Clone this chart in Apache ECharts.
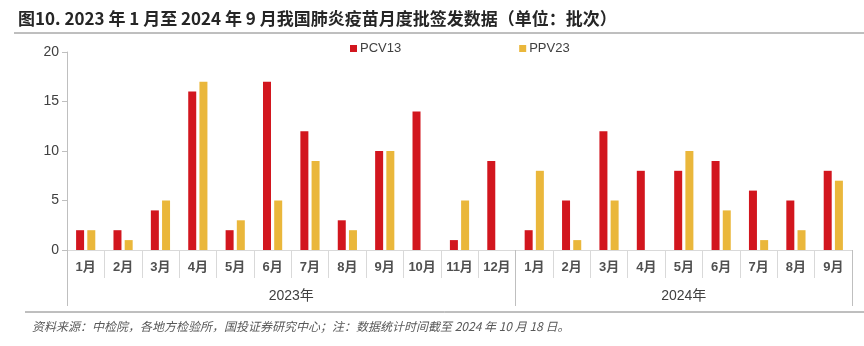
<!DOCTYPE html>
<html><head><meta charset="utf-8">
<script src="https://cdn.jsdelivr.net/npm/echarts@6/dist/echarts.min.js"></script>
<style>html,body{margin:0;padding:0;background:#fff}#c{width:864px;height:346px}</style>
</head><body><div id="c"></div>
<script>
const months = ['1月','2月','3月','4月','5月','6月','7月','8月','9月','10月','11月','12月','1月','2月','3月','4月','5月','6月','7月','8月','9月'];
const years = ['2023年','2024年'];
const yearCounts = [12, 9];
const pcv13 = [2,2,4,16,2,17,12,3,10,14,1,9, 2,5,12,8,8,9,6,5,8];
const ppv23 = [2,1,5,17,3,5,9,2,10,0,5,0, 8,1,5,0,10,4,1,2,7];
const yTicks = [0,5,10,15,20];

const FONT = '"Liberation Sans","Noto Sans CJK SC",sans-serif';
const chart = echarts.init(document.getElementById('c'), null, {renderer:'canvas'});

const yearBounds = [0];
yearCounts.forEach((c,i)=>yearBounds.push(yearBounds[i]+c));
const yearCenters = yearCounts.map((c,i)=>yearBounds[i]+c/2);

chart.setOption({
  animation:false,
  textStyle:{fontFamily:FONT},
  title:[
    {text:'图10. 2023 年 1 月至 2024 年 9 月我国肺炎疫苗月度批签发数据（单位：批次）',left:13,top:5,
     textStyle:{fontSize:17,fontWeight:'bold',color:'#262626',fontFamily:'"Noto Sans CJK SC",sans-serif'}},
    {text:'资料来源：中检院，各地方检验所，国投证券研究中心；注：数据统计时间截至 2024 年 10 月 18 日。',left:27,top:315,
     textStyle:{fontSize:12,fontWeight:'normal',fontStyle:'italic',color:'#595959',fontFamily:'"Noto Sans CJK SC",sans-serif'}}
  ],
  graphic:[
    {type:'line',shape:{x1:14,y1:33,x2:864,y2:33},style:{stroke:'#7f7f7f',lineWidth:1}},
    {type:'line',shape:{x1:25,y1:312,x2:864,y2:312},style:{stroke:'#7f7f7f',lineWidth:1}}
  ],
  legend:{left:345,top:37,itemWidth:7,itemHeight:7,itemGap:118,icon:'rect',
    textStyle:{fontSize:13,color:'#404040',fontFamily:FONT,padding:[0,0,0,-2]}},
  grid:{left:67,right:12,top:52,bottom:96},
  xAxis:[
    {type:'category',data:months,position:'bottom',
     axisLine:{show:true,lineStyle:{color:'#d9d9d9',width:1}},
     axisTick:{show:true,interval:0,length:28,lineStyle:{color:'#d9d9d9'}},
     axisLabel:{interval:0,margin:11,fontSize:13,fontWeight:'bold',color:'#505050',fontFamily:FONT}},
    {type:'value',min:0,max:months.length,position:'bottom',
     axisLine:{show:false},
     splitLine:{show:false},
     axisTick:{show:true,length:56,customValues:yearBounds,lineStyle:{color:'#bfbfbf'}},
     axisLabel:{customValues:yearCenters,margin:39,fontSize:14,color:'#404040',fontFamily:FONT,
       formatter:(v)=>{const i=yearCenters.indexOf(v);return i>=0?years[i]:'';}}}
  ],
  yAxis:{type:'value',min:0,max:20,interval:5,
    axisLine:{show:true,lineStyle:{color:'#bfbfbf'}},
    axisTick:{show:true,length:5,lineStyle:{color:'#bfbfbf'}},
    splitLine:{show:false},
    axisLabel:{margin:8,fontSize:14,color:'#404040',fontFamily:FONT,
      formatter:(v)=>yTicks.includes(v)?String(v):''}},
  series:[
    {name:'PCV13',type:'bar',xAxisIndex:0,data:pcv13,barWidth:8,barGap:'40%',itemStyle:{color:'#D2161E'}},
    {name:'PPV23',type:'bar',xAxisIndex:0,data:ppv23,barWidth:8,barGap:'40%',itemStyle:{color:'#EAB73B'}}
  ]
});
</script></body></html>
